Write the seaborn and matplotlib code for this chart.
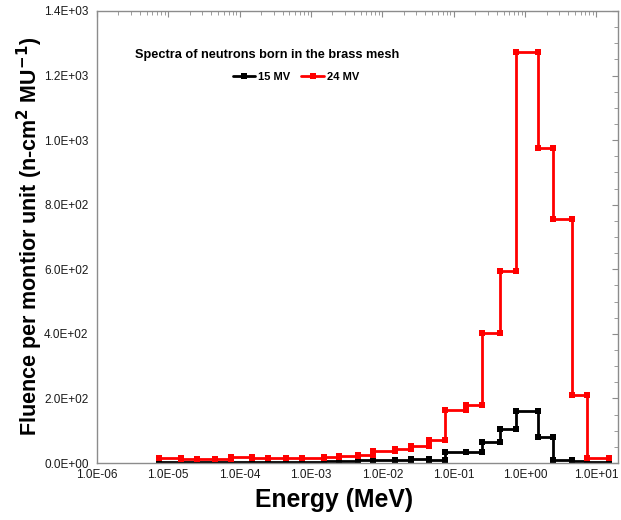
import numpy as np
import pandas as pd
import matplotlib
matplotlib.use("Agg")
import matplotlib.pyplot as plt
import seaborn as sns
from matplotlib.ticker import FuncFormatter, MultipleLocator, LogLocator, NullFormatter

# Bin edges (MeV)
edges = [7.5e-6, 1.5e-5, 2.5e-5, 4.5e-5, 7.5e-5,
         1.5e-4, 2.5e-4, 4.5e-4, 7.5e-4,
         1.5e-3, 2.5e-3, 4.5e-3, 7.5e-3,
         1.5e-2, 2.5e-2, 4.5e-2, 7.5e-2,
         0.15, 0.25, 0.45, 0.75,
         1.5, 2.5, 4.5, 7.5, 15.0]

fluence_15mv = [2, 2, 2, 2.5, 3, 3, 3, 3.5, 4, 5, 6, 8, 8, 9, 13, 10,
                33, 35, 64, 104, 161, 82, 8, 5, 2]
fluence_24mv = [14, 12, 12, 13, 19, 14, 14, 16, 17, 20, 23, 25, 37, 42, 52, 70,
                165, 180, 403, 595, 1272, 977, 755, 212, 17]

series_names = ["15 MV", "24 MV"]
colors = {"15 MV": "#000000", "24 MV": "#ff0000"}

rows = []
for name, vals in zip(series_names, [fluence_15mv, fluence_24mv]):
    for i, v in enumerate(vals):
        rows.append({"series": name, "energy": edges[i], "fluence": v})
        rows.append({"series": name, "energy": edges[i + 1], "fluence": v})
df = pd.DataFrame(rows)

sns.set_style("white")
plt.rcParams["font.family"] = ["Liberation Sans", "DejaVu Sans"]
plt.rcParams["text.color"] = "black"
plt.rcParams["axes.labelcolor"] = "black"
plt.rcParams["mathtext.default"] = "bf"

fig = plt.figure(figsize=(6.21, 5.2), dpi=100)
ax = fig.add_axes([0.156, 0.1096, 0.839, 0.8694])

sns.lineplot(data=df, x="energy", y="fluence", hue="series", palette=colors,
             estimator=None, sort=False, units="series", marker="s", markersize=5,
             markeredgewidth=0, linewidth=2.0, ax=ax, legend=True)

ax.set_xscale("log")
ax.set_xlim(1e-6, 20)
ax.set_ylim(0, 1400)

ax.yaxis.set_major_locator(MultipleLocator(200))
ax.yaxis.set_minor_locator(MultipleLocator(50))
ax.yaxis.set_major_formatter(FuncFormatter(lambda v, p: f"{v:.1E}"))
ax.xaxis.set_major_locator(LogLocator(base=10, numticks=20))
ax.xaxis.set_minor_locator(LogLocator(base=10, subs=np.arange(2, 10), numticks=100))
ax.xaxis.set_minor_formatter(NullFormatter())
ax.xaxis.set_major_formatter(FuncFormatter(lambda v, p: f"{v:.1E}"))

spine_col = "#8c8c8c"
for s in ax.spines.values():
    s.set_color(spine_col)
    s.set_linewidth(1.0)
ax.tick_params(which="both", direction="in", colors=spine_col, labelcolor="#1a1a1a",
               top=True, right=True, labelsize=8.5)
ax.tick_params(axis="y", which="major", length=4, pad=6)
ax.tick_params(axis="x", which="major", length=4, pad=4)
ax.tick_params(which="minor", length=3)

ax.set_xlabel("Energy (MeV)", fontsize=17.8, fontweight="bold")
ax.set_ylabel("Fluence per montior unit (n-cm$^{2}$ MU$^{-1}$)",
              fontsize=15.5, fontweight="bold")
ax.xaxis.set_label_coords((334 - 97) / 521, (463 - 488) / 452)
ax.yaxis.set_label_coords((45 - 97) / 521, (463 - 236) / 452)

ax.text(0.326, 0.903, "Spectra of neutrons born in the brass mesh", transform=ax.transAxes,
        fontsize=9.2, fontweight="bold", ha="center", va="center")
leg = ax.legend(loc="center", bbox_to_anchor=(0.382, 0.854), ncol=2, frameon=False,
                prop={"weight": "bold", "size": 8}, handlelength=2.0, columnspacing=1.0,
                handletextpad=0.3, title=None)

fig.savefig("out.png", dpi=100)
